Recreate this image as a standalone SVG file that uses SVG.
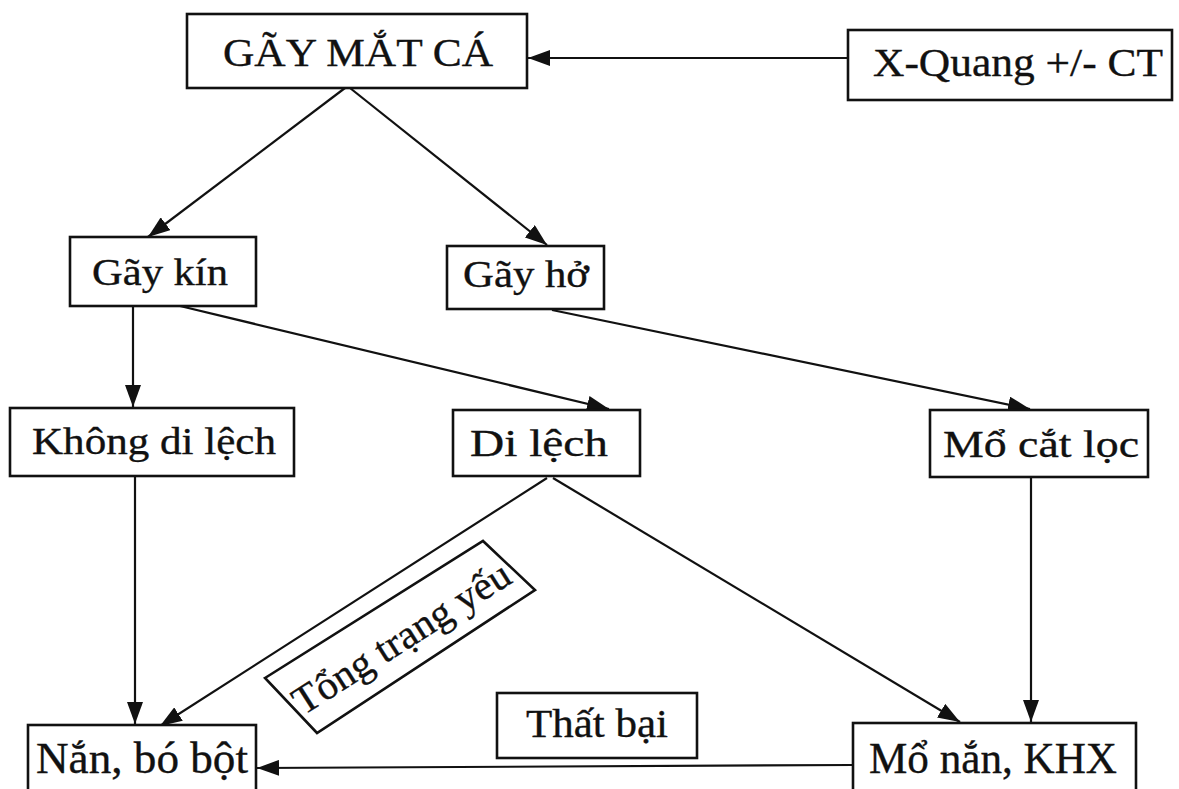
<svg xmlns="http://www.w3.org/2000/svg" width="1179" height="789" viewBox="0 0 1179 789">
  <style>
    .box { fill: #ffffff; stroke: #111111; stroke-width: 2.6; }
    .lbl { font-family: "Liberation Serif", "Times New Roman", serif; font-size: 37px; fill: #111111; stroke: #111111; stroke-width: 0.35; text-anchor: middle; }
    .top { font-size: 40px; }
    .bot { font-size: 44px; }
    .edge { stroke: #111111; stroke-width: 2.2; fill: none; marker-end: url(#arrow); }
  </style>
  <defs>
    <marker id="arrow" viewBox="0 0 22 16" refX="22" refY="8" markerWidth="22" markerHeight="16" markerUnits="userSpaceOnUse" orient="auto">
      <path d="M0,0 L22,8 L0,16 Z" fill="#111111"/>
    </marker>
  </defs>
  <rect width="1179" height="789" fill="#ffffff"/>

  <g id="connectors">
    <line class="edge" x1="848" y1="58" x2="528" y2="58"/>
    <line class="edge" x1="345" y1="88" x2="148" y2="237"/>
    <line class="edge" x1="350" y1="88" x2="547" y2="245"/>
    <line class="edge" x1="133" y1="306" x2="133" y2="407"/>
    <line class="edge" x1="180" y1="306" x2="609" y2="409"/>
    <line class="edge" x1="552" y1="310" x2="1030" y2="409"/>
    <line class="edge" x1="135" y1="476" x2="135" y2="724"/>
    <line class="edge" x1="547" y1="478" x2="160" y2="726"/>
    <line class="edge" x1="553" y1="478" x2="960" y2="722"/>
    <line class="edge" x1="1031" y1="477" x2="1031" y2="722"/>
    <line class="edge" x1="853" y1="765" x2="257" y2="768"/>
  </g>

  <g id="gay-mat-ca">
    <rect class="box" x="187" y="14" width="340" height="74"/>
    <text class="lbl top" x="358" y="66" textLength="270" lengthAdjust="spacingAndGlyphs">GÃY MẮT CÁ</text>
  </g>
  <g id="x-quang">
    <rect class="box" x="848" y="30" width="324" height="70"/>
    <text class="lbl top" x="1018" y="76" textLength="290" lengthAdjust="spacingAndGlyphs">X-Quang +/- CT</text>
  </g>
  <g id="gay-kin">
    <rect class="box" x="70" y="237" width="186" height="69"/>
    <text class="lbl" x="160" y="285" textLength="136" lengthAdjust="spacingAndGlyphs">Gãy kín</text>
  </g>
  <g id="gay-ho">
    <rect class="box" x="447" y="246" width="157" height="63"/>
    <text class="lbl" x="526" y="287" textLength="126" lengthAdjust="spacingAndGlyphs">Gãy hở</text>
  </g>
  <g id="khong-di-lech">
    <rect class="box" x="10" y="408" width="284" height="68"/>
    <text class="lbl" x="154" y="454" textLength="244" lengthAdjust="spacingAndGlyphs">Không di lệch</text>
  </g>
  <g id="di-lech">
    <rect class="box" x="453" y="410" width="187" height="66"/>
    <text class="lbl" x="539" y="456" textLength="138" lengthAdjust="spacingAndGlyphs">Di lệch</text>
  </g>
  <g id="mo-cat-loc">
    <rect class="box" x="930" y="410" width="218" height="67"/>
    <text class="lbl" x="1041" y="457" textLength="196" lengthAdjust="spacingAndGlyphs">Mổ cắt lọc</text>
  </g>
  <g id="tong-trang-yeu">
    <polygon class="box" points="265,678 483,541 535,590 317,733"/>
    <text class="lbl" x="0" y="14" transform="translate(401,637) rotate(-32.5)" style="font-size:40px" textLength="250" lengthAdjust="spacingAndGlyphs">Tổng trạng yếu</text>
  </g>
  <g id="that-bai">
    <rect class="box" x="497" y="693" width="200" height="65"/>
    <text class="lbl" x="597" y="737" style="font-size:40px" textLength="142" lengthAdjust="spacingAndGlyphs">Thất bại</text>
  </g>
  <g id="nan-bo-bot">
    <rect class="box" x="28" y="725" width="228" height="70"/>
    <text class="lbl bot" x="142" y="773" textLength="212" lengthAdjust="spacingAndGlyphs">Nắn, bó bột</text>
  </g>
  <g id="mo-nan-khx">
    <rect class="box" x="853" y="723" width="283" height="72"/>
    <text class="lbl bot" x="993" y="773" textLength="248" lengthAdjust="spacingAndGlyphs">Mổ nắn, KHX</text>
  </g>
</svg>
